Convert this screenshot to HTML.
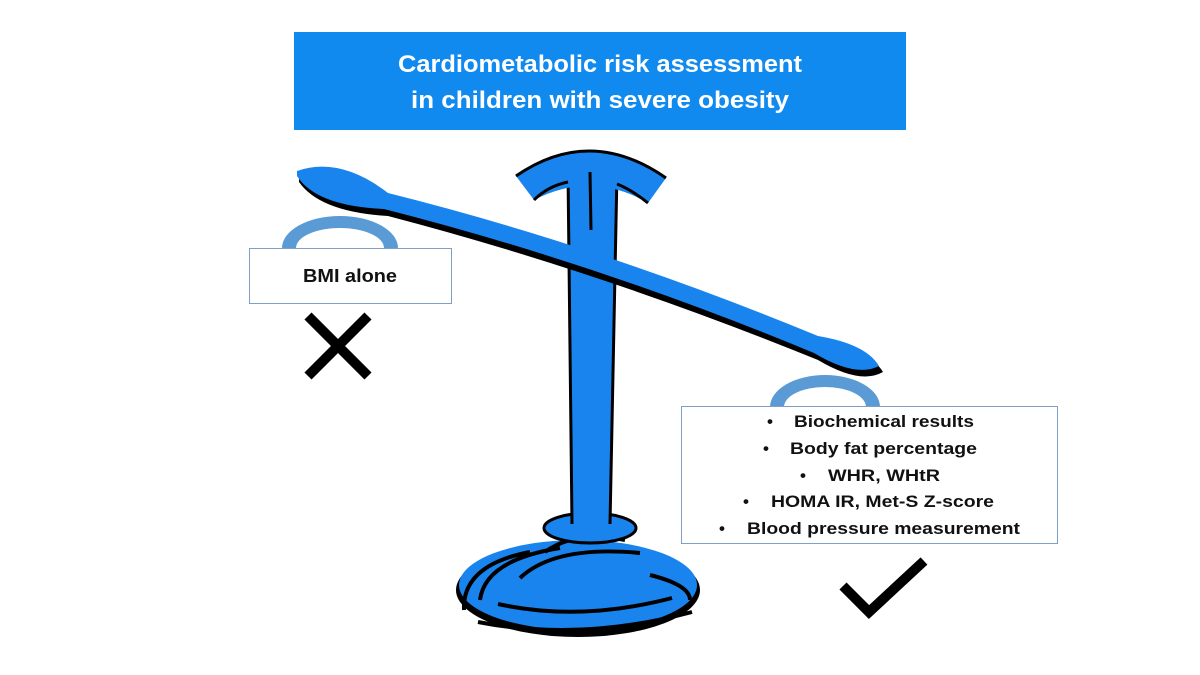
<!DOCTYPE html>
<html><head><meta charset="utf-8"><style>
html,body{margin:0;padding:0;background:#fff;}
svg{display:block;}
text{font-family:"Liberation Sans",sans-serif;font-weight:bold;}
</style></head><body>
<svg width="1200" height="675" viewBox="0 0 1200 675" xmlns="http://www.w3.org/2000/svg">
<rect width="1200" height="675" fill="#fff"/>
<!-- title -->
<rect x="294" y="32" width="612" height="98" fill="#118af0"/>
<text x="600" y="72" fill="#fff" font-size="24" text-anchor="middle" textLength="404" lengthAdjust="spacingAndGlyphs">Cardiometabolic risk assessment</text>
<text x="600" y="108" fill="#fff" font-size="24" text-anchor="middle" textLength="378" lengthAdjust="spacingAndGlyphs">in children with severe obesity</text>

<!-- pans -->
<path d="M282,248 A58,32 0 0 1 398,248 L384,248 A44,20 0 0 0 296,248 Z" fill="#5b9bd5"/>
<path d="M770,407 A55,32 0 0 1 880,407 L866,407 A41,20 0 0 0 784,407 Z" fill="#5b9bd5"/>

<!-- base -->
<ellipse cx="578" cy="590" rx="122" ry="47" fill="#000"/>
<ellipse cx="578" cy="585" rx="119" ry="45" fill="#1a84ee"/>
<path d="M464,610 Q462,565 530,552 M480,600 Q485,560 560,548 M520,578 Q555,545 640,553 M545,552 Q575,530 625,540 M650,575 Q690,585 690,600" stroke="#000" stroke-width="4" fill="none"/>
<path d="M498,604 Q580,622 672,598 M478,622 Q580,642 692,612" stroke="#000" stroke-width="4" fill="none"/>
<ellipse cx="590" cy="528" rx="46" ry="15" fill="#1a84ee" stroke="#000" stroke-width="3"/>

<!-- stem -->
<path d="M568,172 L617,172 L610,524 L572,524 Z" fill="#1a84ee"/>
<path d="M568,172 L572,524 M617,172 L610,524" stroke="#000" stroke-width="3"/>
<!-- crossbar -->
<path d="M516,176 Q590,125 666,178 L648,203 Q592,170 534,200 Z" fill="#1a84ee"/>
<path d="M516,176 Q590,125 666,178 M534,200 Q548,186 568,182 M648,203 Q632,190 617,184" stroke="#000" stroke-width="3" fill="none"/>
<path d="M590,172 L591,230" stroke="#000" stroke-width="3"/>

<!-- beam -->
<path d="M297,173 Q340,158 388,195 Q600,248 818,338 Q868,346 881,368 Q858,381 816,356 Q600,268 386,212 Q318,208 297,178 Z" fill="#000" transform="translate(2,4)"/>
<path d="M297,171 Q340,156 388,193 Q600,246 818,336 Q866,344 879,366 Q856,378 814,353 Q600,264 384,209 Q316,206 297,176 Z" fill="#1a84ee"/>

<!-- BMI box -->
<rect x="249.5" y="248.5" width="202" height="55" fill="#fff" stroke="#7fa0c4" stroke-width="1"/>
<text x="350" y="282" font-size="18" text-anchor="middle" fill="#111" textLength="94" lengthAdjust="spacingAndGlyphs">BMI alone</text>

<!-- X -->
<path d="M308,316 L368,376 M368,316 L308,376" stroke="#000" stroke-width="10"/>

<!-- right box -->
<rect x="681.5" y="406.5" width="376" height="137" fill="#fff" stroke="#7fa0c4" stroke-width="1"/>
<g font-size="17" fill="#111">
<text x="767" y="427">•</text><text x="794" y="427" textLength="180" lengthAdjust="spacingAndGlyphs">Biochemical results</text>
<text x="763" y="454">•</text><text x="790" y="454" textLength="187" lengthAdjust="spacingAndGlyphs">Body fat percentage</text>
<text x="800" y="481">•</text><text x="828" y="481" textLength="112" lengthAdjust="spacingAndGlyphs">WHR, WHtR</text>
<text x="743" y="507">•</text><text x="771" y="507" textLength="223" lengthAdjust="spacingAndGlyphs">HOMA IR, Met-S Z-score</text>
<text x="719" y="534">•</text><text x="747" y="534" textLength="273" lengthAdjust="spacingAndGlyphs">Blood pressure measurement</text>
</g>

<!-- check -->
<path d="M843,586 L869,612 L924,561" stroke="#000" stroke-width="10" fill="none"/>
</svg>
</body></html>
